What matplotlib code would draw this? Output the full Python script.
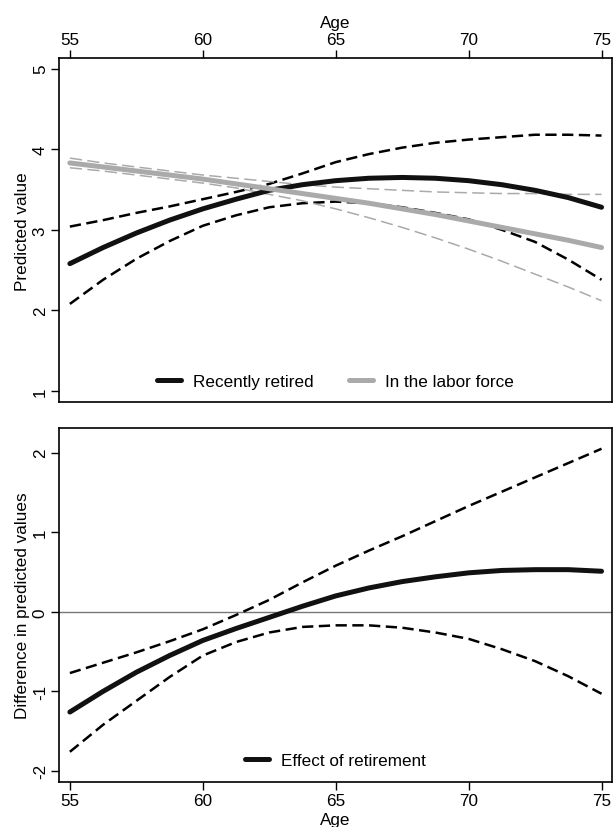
import numpy as np
import matplotlib
matplotlib.use("Agg")
import matplotlib.pyplot as plt

plt.rcParams['font.family'] = ['Liberation Sans', 'DejaVu Sans']
plt.rcParams['axes.unicode_minus'] = False

# ages
age = [55, 56.25, 57.5, 58.75, 60, 61.25, 62.5, 63.75, 65,
       66.25, 67.5, 68.75, 70, 71.25, 72.5, 73.75, 75]

# top panel: predicted values
retired = [2.58, 2.78, 2.96, 3.12, 3.26, 3.38, 3.49, 3.56, 3.61,
           3.64, 3.65, 3.64, 3.61, 3.56, 3.49, 3.40, 3.28]
retired_hi = [3.04, 3.12, 3.21, 3.29, 3.38, 3.47, 3.57, 3.70, 3.84,
              3.94, 4.02, 4.08, 4.12, 4.15, 4.18, 4.18, 4.17]
retired_lo = [2.08, 2.38, 2.64, 2.86, 3.05, 3.18, 3.28, 3.33, 3.35,
              3.33, 3.28, 3.21, 3.13, 3.00, 2.85, 2.63, 2.38]

labor = [3.83, 3.78, 3.73, 3.68, 3.63, 3.57, 3.51, 3.45, 3.39,
         3.33, 3.26, 3.19, 3.11, 3.03, 2.95, 2.87, 2.78]
labor_hi = [3.89, 3.83, 3.78, 3.73, 3.68, 3.64, 3.60, 3.56, 3.53,
            3.51, 3.49, 3.47, 3.46, 3.45, 3.45, 3.44, 3.44]
labor_lo = [3.77, 3.73, 3.68, 3.63, 3.58, 3.52, 3.44, 3.36, 3.26,
            3.15, 3.03, 2.90, 2.76, 2.61, 2.45, 2.29, 2.12]

# bottom panel: difference (effect of retirement)
effect = [-1.26, -1.00, -0.76, -0.55, -0.36, -0.21, -0.07, 0.07, 0.20,
          0.30, 0.38, 0.44, 0.49, 0.52, 0.53, 0.53, 0.51]
effect_hi = [-0.77, -0.64, -0.51, -0.37, -0.22, -0.04, 0.15, 0.37, 0.58,
             0.77, 0.95, 1.14, 1.33, 1.51, 1.69, 1.87, 2.05]
effect_lo = [-1.76, -1.42, -1.12, -0.82, -0.55, -0.38, -0.26, -0.19, -0.17,
             -0.17, -0.20, -0.26, -0.34, -0.47, -0.62, -0.81, -1.03]

xticks = [55, 60, 65, 70, 75]
fs = 12.3

fig = plt.figure(figsize=(6.13, 8.28), dpi=100)
ax1 = fig.add_axes([0.0962, 0.513, 0.902, 0.4155])
ax2 = fig.add_axes([0.0962, 0.0543, 0.902, 0.4275])

blk_dash = (0, (4.5, 2.2))
gry_dash = (0, (8, 3.5))

ax1.plot(age, retired_hi, color='black', lw=1.8, ls=blk_dash)
ax1.plot(age, retired_lo, color='black', lw=1.8, ls=blk_dash)
ax1.plot(age, labor_hi, color='#aaaaaa', lw=1.1, ls=gry_dash)
ax1.plot(age, labor_lo, color='#aaaaaa', lw=1.1, ls=gry_dash)
ax1.plot(age, retired, color='#111111', lw=3.6, solid_capstyle='round', label='Recently retired')
ax1.plot(age, labor, color='#aaaaaa', lw=3.6, solid_capstyle='round', label='In the labor force')

ax1.set_xlim(54.59, 75.39)
ax1.set_ylim(0.86, 5.13)
ax1.set_xticks(xticks)
ax1.set_yticks([1, 2, 3, 4, 5])
ax1.xaxis.tick_top()
ax1.xaxis.set_label_position('top')
ax1.set_xlabel('Age', fontsize=fs, labelpad=4)
ax1.set_ylabel('Predicted value', fontsize=fs, labelpad=2)
ax1.legend(loc='lower center', ncol=2, frameon=False, fontsize=fs,
           handlelength=1.4, handletextpad=0.7, columnspacing=2.1,
           borderaxespad=0.4)

ax2.axhline(0, color='#777777', lw=1.0)
ax2.plot(age, effect_hi, color='black', lw=1.8, ls=blk_dash)
ax2.plot(age, effect_lo, color='black', lw=1.8, ls=blk_dash)
ax2.plot(age, effect, color='#111111', lw=3.6, solid_capstyle='round', label='Effect of retirement')

ax2.set_xlim(54.59, 75.39)
ax2.set_ylim(-2.14, 2.31)
ax2.set_xticks(xticks)
ax2.set_yticks([-2, -1, 0, 1, 2])
ax2.set_xlabel('Age', fontsize=fs, labelpad=3)
ax2.set_ylabel('Difference in predicted values', fontsize=fs, labelpad=2)
ax2.legend(loc='lower center', frameon=False, fontsize=fs,
           handlelength=1.4, handletextpad=0.7, borderaxespad=0.4)

for ax in (ax1, ax2):
    for s in ax.spines.values():
        s.set_linewidth(1.2)
    ax.tick_params(direction='out', length=6, width=1.0, labelsize=fs, pad=2)
    for lab in ax.get_yticklabels():
        lab.set_rotation(90)
        lab.set_va('center')

fig.savefig('out.png', dpi=100)
